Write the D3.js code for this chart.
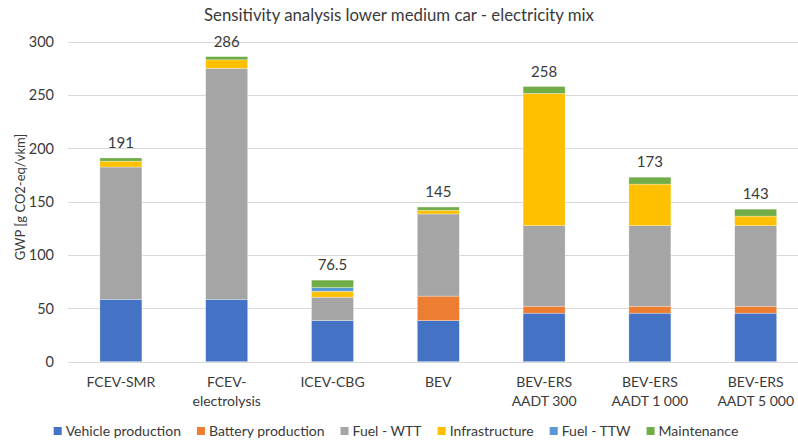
<!DOCTYPE html>
<html>
<head>
<meta charset="utf-8">
<script src="https://cdn.jsdelivr.net/npm/d3@7"></script>
<style>
  html, body { margin: 0; padding: 0; background: #fff; }
  svg { display: block; font-family: Lato, "Open Sans", sans-serif; }
</style>
</head>
<body>
<svg id="chart" width="798" height="442"></svg>
<script>
// Categories (label lines for the x axis)
const categories = ["FCEV-SMR", "FCEV-electrolysis", "ICEV-CBG", "BEV",
  "BEV-ERS AADT 300", "BEV-ERS AADT 1 000", "BEV-ERS AADT 5 000"];
const categoryLines = [["FCEV-SMR"], ["FCEV-", "electrolysis"], ["ICEV-CBG"], ["BEV"],
  ["BEV-ERS", "AADT 300"], ["BEV-ERS", "AADT 1 000"], ["BEV-ERS", "AADT 5 000"]];

// Contributions in g CO2-eq/vkm
const vehicleProduction = [58.5, 58.5, 38.5, 38.5, 45.5, 45.5, 45.5];
const batteryProduction = [0, 0, 0, 23, 6.5, 6.5, 6.5];
const fuelWTT           = [124, 216.5, 22, 77, 75.5, 75.5, 75.5];
const infrastructure    = [5.5, 8, 5.5, 3.5, 124, 39, 9];
const fuelTTW           = [0, 0, 3.5, 0, 0, 0, 0];
const maintenance       = [3, 3, 7, 3, 6.5, 6.5, 6.5];

const seriesNames = ["Vehicle production", "Battery production", "Fuel - WTT",
  "Infrastructure", "Fuel - TTW", "Maintenance"];
const seriesColors = ["#4472C4", "#ED7D31", "#A5A5A5", "#FFC000", "#5B9BD5", "#70AD47"];
const yTicks = [0, 50, 100, 150, 200, 250, 300];

const seriesValues = [vehicleProduction, batteryProduction, fuelWTT,
  infrastructure, fuelTTW, maintenance];

const rows = categories.map((c, i) => {
  const r = { category: c };
  seriesNames.forEach((s, k) => { r[s] = seriesValues[k][i]; });
  return r;
});
const stacked = d3.stack().keys(seriesNames)(rows);
const totals = rows.map(r => d3.sum(seriesNames, s => r[s]));

const svg = d3.select("#chart");
const textColor = "#3a3a3a";

const x = d3.scaleBand()
  .domain(categories)
  .range([68, 808.6])
  .paddingInner(0.603)
  .paddingOuter(0.3015);

const y = d3.scaleLinear().domain([0, 300]).range([361.7, 41.7]);

// Gridlines
svg.append("g")
  .selectAll("line")
  .data(yTicks)
  .join("line")
  .attr("x1", 68).attr("x2", 798)
  .attr("y1", d => Math.round(y(d)) + 0.5)
  .attr("y2", d => Math.round(y(d)) + 0.5)
  .attr("stroke", "#D9D9D9")
  .attr("stroke-width", 1);

// Y axis tick labels
const yAxis = d3.axisLeft(y).tickValues(yTicks).tickSize(0).tickPadding(0);
const yg = svg.append("g").attr("transform", "translate(54,0)").call(yAxis);
yg.select(".domain").remove();
yg.selectAll("text")
  .attr("font-family", "Lato, sans-serif")
  .attr("font-size", 14.5)
  .attr("fill", textColor);

// Y axis title
svg.append("text")
  .attr("transform", "translate(25,197) rotate(-90)")
  .attr("text-anchor", "middle")
  .attr("font-size", 13)
  .attr("fill", textColor)
  .text("GWP [g CO2-eq/vkm]");

// Stacked bars
svg.append("g")
  .selectAll("g")
  .data(stacked)
  .join("g")
  .attr("fill", (d, i) => seriesColors[i])
  .selectAll("rect")
  .data(d => d)
  .join("rect")
  .attr("x", d => x(d.data.category))
  .attr("width", x.bandwidth())
  .attr("y", d => y(d[1]))
  .attr("height", d => Math.max(0, y(d[0]) - y(d[1])))
  .attr("stroke", "#fff")
  .attr("stroke-opacity", 0.5)
  .attr("stroke-width", 0.6);

// Total labels
const fmt = d3.format(".3~r");
svg.append("g")
  .selectAll("text")
  .data(rows)
  .join("text")
  .attr("x", (d, i) => x(d.category) + x.bandwidth() / 2)
  .attr("y", (d, i) => y(totals[i]) - 10)
  .attr("text-anchor", "middle")
  .attr("font-size", 15)
  .attr("fill", textColor)
  .text((d, i) => fmt(totals[i]));

// X axis category labels
const xl = svg.append("g")
  .selectAll("text")
  .data(categories)
  .join("text")
  .attr("x", d => x(d) + x.bandwidth() / 2)
  .attr("y", 387)
  .attr("text-anchor", "middle")
  .attr("font-size", 14)
  .attr("fill", textColor);
xl.selectAll("tspan")
  .data((d, i) => categoryLines[i])
  .join("tspan")
  .attr("x", function () { return this.parentNode.getAttribute("x"); })
  .attr("dy", (d, j) => j === 0 ? 0 : 18.5)
  .text(d => d);

// Title
svg.append("text")
  .attr("x", 399)
  .attr("y", 20.5)
  .attr("text-anchor", "middle")
  .attr("font-size", 16.8)
  .attr("fill", textColor)
  .text("Sensitivity analysis lower medium car - electricity mix");

// Legend
const legend = svg.append("g");
const items = legend.selectAll("g")
  .data(seriesNames)
  .join("g");
items.append("rect")
  .attr("width", 8).attr("height", 8)
  .attr("y", -4)
  .attr("fill", (d, i) => seriesColors[i]);
items.append("text")
  .attr("x", 12)
  .attr("dy", "0.35em")
  .attr("font-size", 14)
  .attr("fill", textColor)
  .text(d => d);
let cx = 0;
const gap = 16;
items.each(function () {
  const w = 12 + d3.select(this).select("text").node().getComputedTextLength();
  d3.select(this).attr("transform", `translate(${cx},0)`);
  cx += w + gap;
});
const legendWidth = cx - gap;
legend.attr("transform", `translate(${396 - legendWidth / 2},431)`);
</script>
</body>
</html>
